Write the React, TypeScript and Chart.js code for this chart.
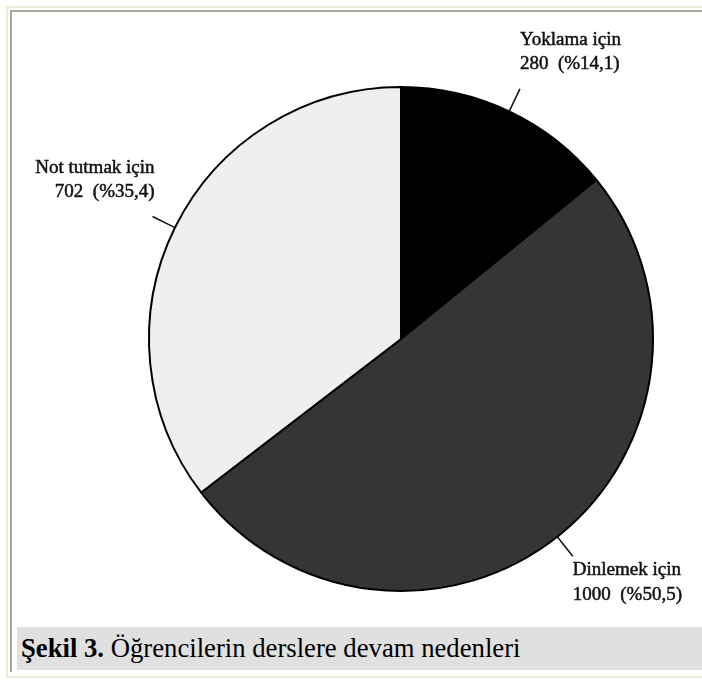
import React, { useEffect, useRef } from "react";
import { Chart, registerables } from "chart.js";

Chart.register(...registerables);

const categories = ["Yoklama için", "Dinlemek için", "Not tutmak için"];
const counts = [280, 1000, 702];
const percentLabels = ["%14,1", "%50,5", "%35,4"];
const sliceColors = ["#000000", "#353535", "#efefef"];
const captionBold = "Şekil 3.";
const captionText = " Öğrencilerin derslere devam nedenleri";

const labelPlugin = {
  id: "pieLabels",
  afterDraw(chart: any) {
    const ctx = chart.ctx as CanvasRenderingContext2D;
    const meta = chart.getDatasetMeta(0);
    ctx.save();
    ctx.font = '19px "Liberation Serif", "Times New Roman", serif';
    ctx.fillStyle = "#111";
    ctx.strokeStyle = "#111";
    meta.data.forEach((arc: any, i: number) => {
      const p = arc.getProps(["x", "y", "startAngle", "endAngle", "outerRadius"], true);
      const mid = (p.startAngle + p.endAngle) / 2;
      const c = Math.cos(mid);
      const s = Math.sin(mid);
      const sx = p.x + c * p.outerRadius;
      const sy = p.y + s * p.outerRadius;
      const ex = p.x + c * (p.outerRadius + 25);
      const ey = p.y + s * (p.outerRadius + 25);
      ctx.lineWidth = 1.5;
      ctx.beginPath();
      ctx.moveTo(sx, sy);
      ctx.lineTo(ex, ey);
      ctx.stroke();
      const lines = [categories[i], `${counts[i]}  (${percentLabels[i]})`];
      const right = c >= 0;
      ctx.textAlign = right ? "left" : "right";
      ctx.textBaseline = "alphabetic";
      const tx = right ? ex : ex + 2;
      let b1: number, b2: number;
      if (s < 0) {
        b1 = ey - 44;
        b2 = ey - 20;
      } else {
        b1 = ey + 19;
        b2 = ey + 44;
      }
      ctx.lineWidth = 0.5;
      ctx.fillText(lines[0], tx, b1);
      ctx.strokeText(lines[0], tx, b1);
      ctx.fillText(lines[1], tx, b2);
      ctx.strokeText(lines[1], tx, b2);
    });
    ctx.restore();
  },
};

export default function App() {
  const canvasRef = useRef<HTMLCanvasElement | null>(null);

  useEffect(() => {
    document.body.style.margin = "0";
    const canvas = canvasRef.current;
    if (!canvas) return;
    const chart = new Chart(canvas, {
      type: "pie",
      data: {
        labels: categories,
        datasets: [
          {
            data: counts,
            backgroundColor: sliceColors,
            borderColor: "#000000",
            borderWidth: 2,
            radius: 252,
          } as any,
        ],
      },
      options: {
        responsive: false,
        animation: false,
        events: [],
        layout: { padding: { left: 100, right: 0, top: 0, bottom: 3 } },
        plugins: {
          legend: { display: false },
          tooltip: { enabled: false },
          title: { display: false },
        },
      },
      plugins: [labelPlugin],
    });
    return () => chart.destroy();
  }, []);

  return (
    <div
      style={{
        position: "absolute",
        left: 0,
        top: 0,
        width: 702,
        height: 681,
        overflow: "hidden",
        background: "#ffffff",
      }}
    >
      <div
        style={{
          position: "absolute",
          left: 6,
          top: 6,
          width: 720,
          height: 668,
          borderLeft: "2px solid #ebe9d8",
          borderTop: "2px solid #ebe9d8",
          borderBottom: "2px solid #ebe9d8",
        }}
      />
      <div
        style={{
          position: "absolute",
          left: 10,
          top: 10,
          width: 720,
          height: 660,
          borderLeft: "2px solid #a9a79b",
          borderTop: "2px solid #a9a79b",
        }}
      />
      <canvas
        ref={canvasRef}
        width={702}
        height={681}
        style={{ position: "absolute", left: 0, top: 0, width: 702, height: 681 }}
      />
      <div
        style={{
          position: "absolute",
          left: 17,
          top: 627,
          width: 685,
          height: 43,
          background: "#e0e0e0",
          fontFamily: '"Liberation Serif", "Times New Roman", serif',
          fontSize: 26.7,
          lineHeight: "43px",
          paddingLeft: 4,
          boxSizing: "border-box",
          color: "#000",
          whiteSpace: "nowrap",
        }}
      >
        <b>{captionBold}</b>
        {captionText}
      </div>
    </div>
  );
}
